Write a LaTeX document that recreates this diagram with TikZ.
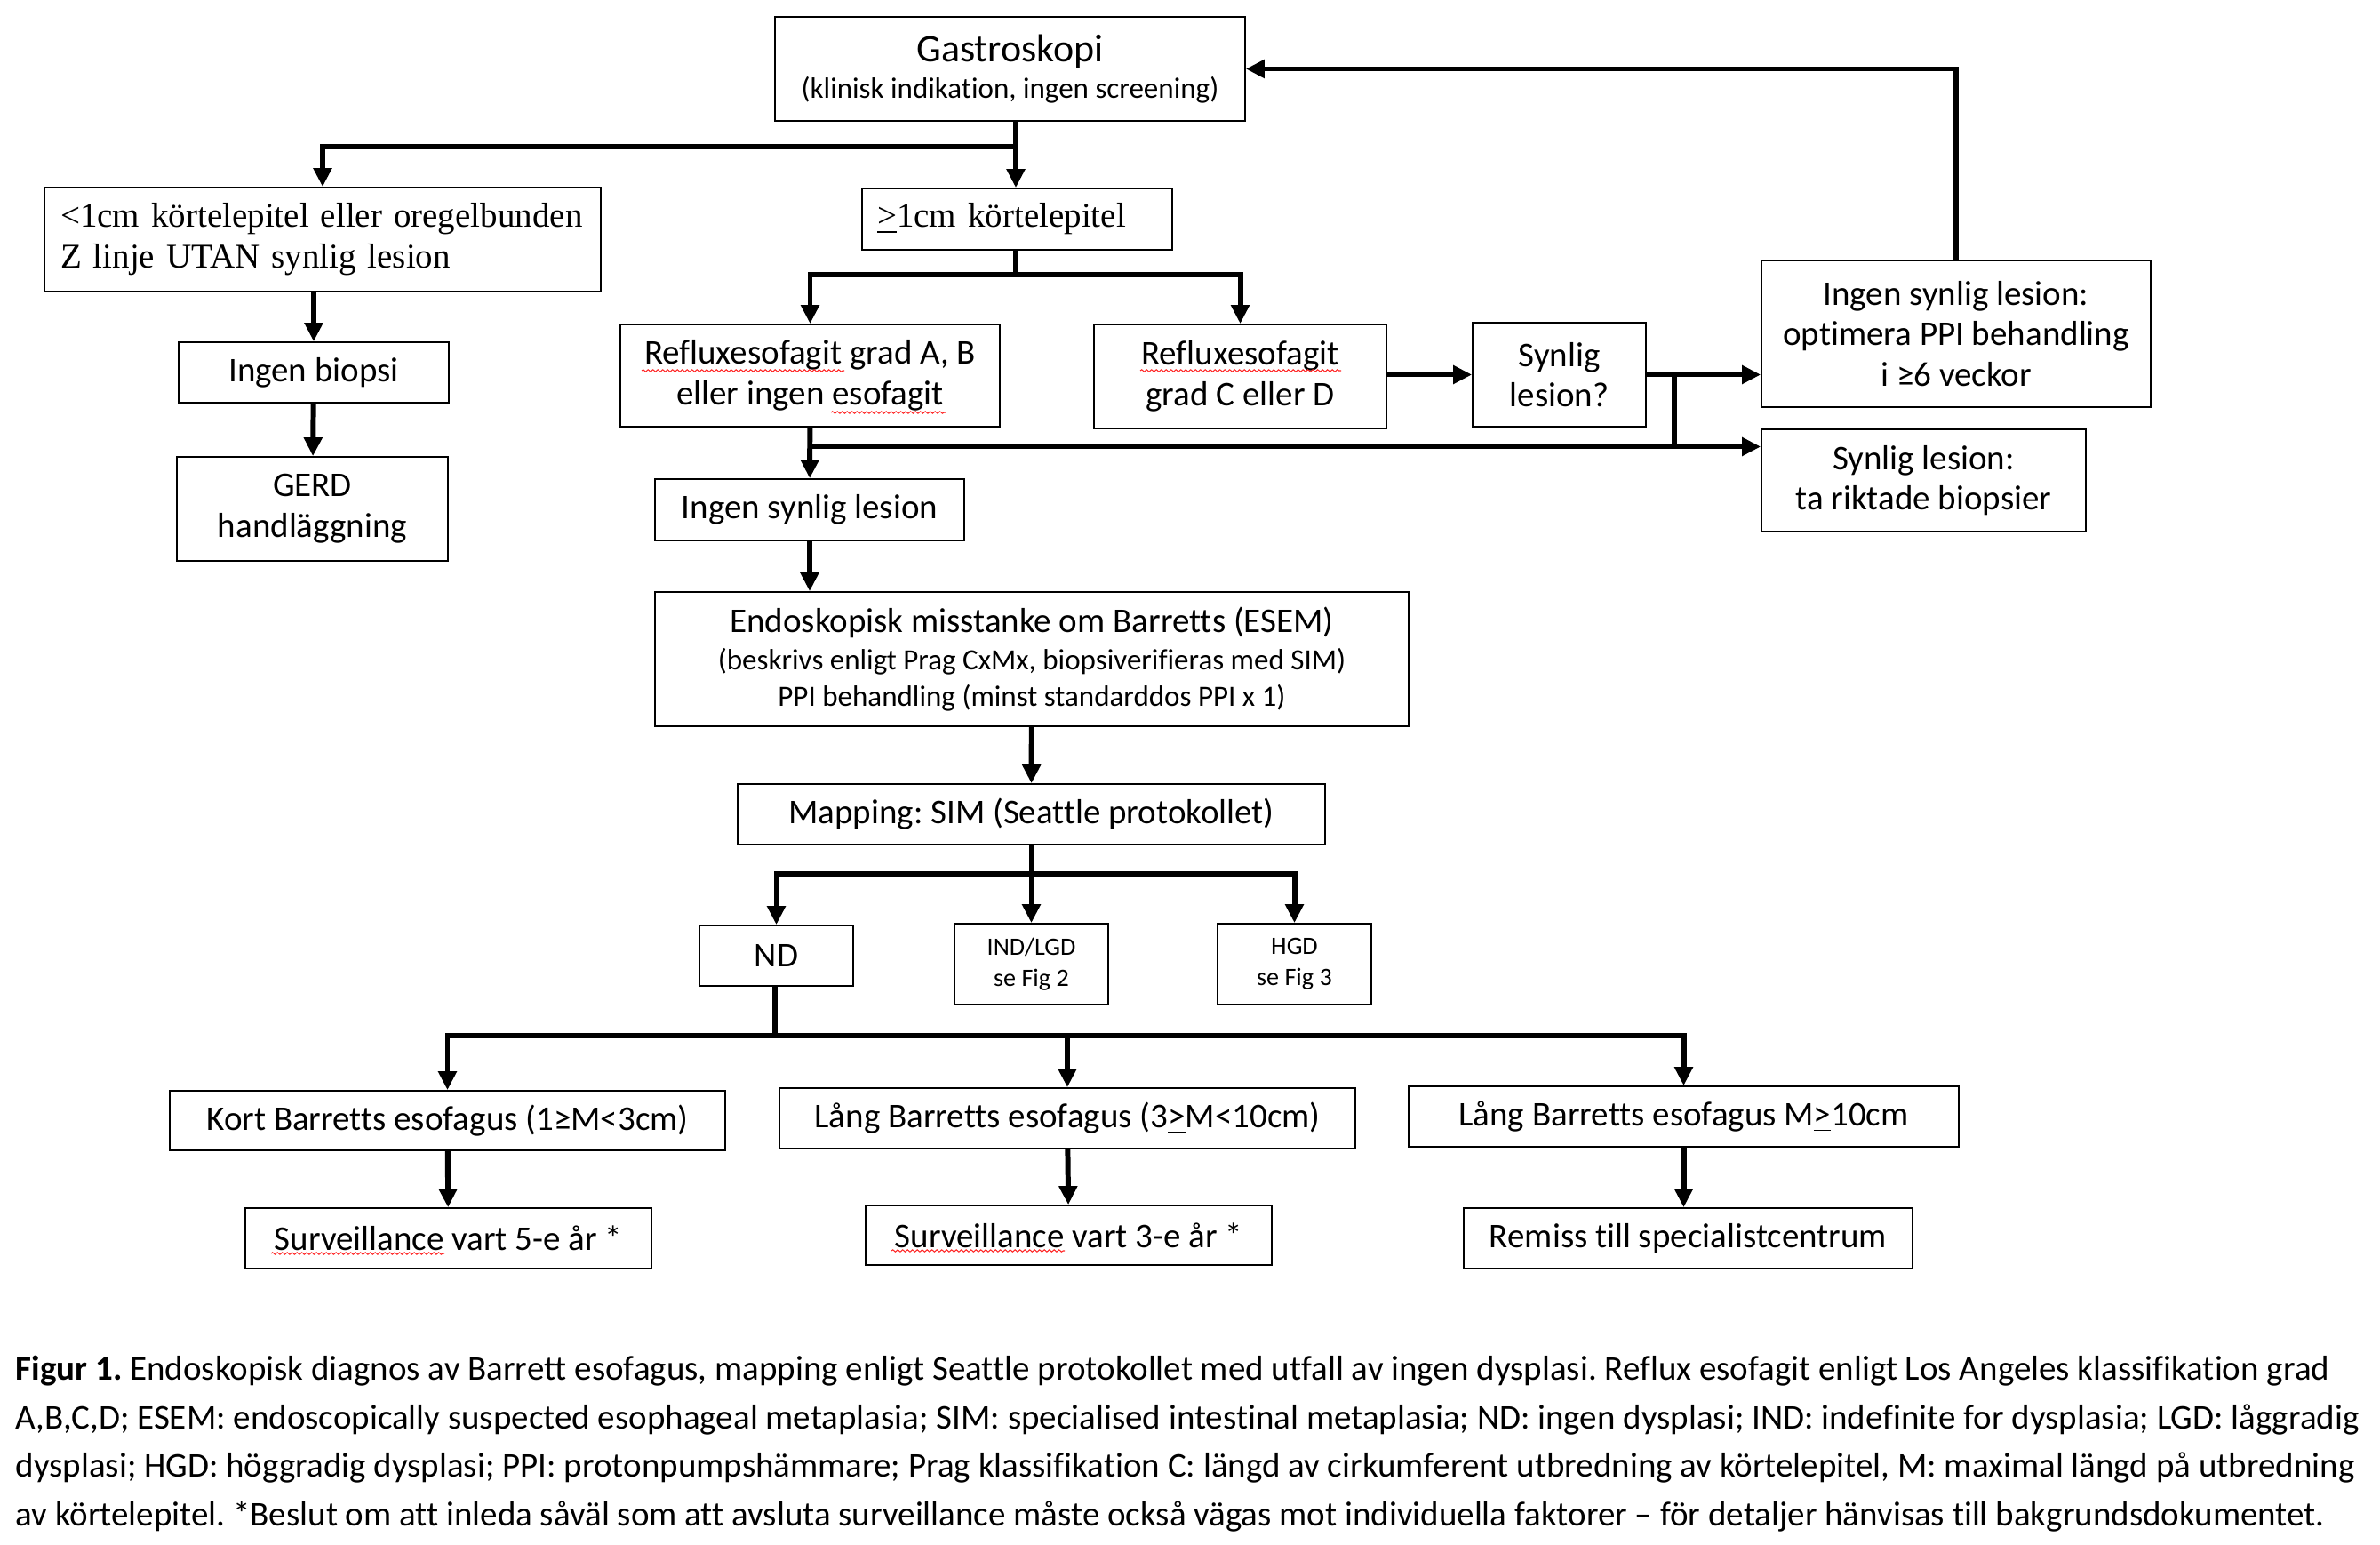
\documentclass[tikz,border=0pt]{standalone}
\usepackage{fontspec}
\setmainfont{Carlito}[Ligatures={TeX,NoCommon}]
\newfontfamily\timesfont{Liberation Serif}
\usepackage{tikz}
\usetikzlibrary{arrows.meta,decorations.pathmorphing}

\newcommand{\fbig}{\fontsize{12.5}{14}\selectfont}
\newcommand{\fmain}{\fontsize{11.1}{13}\selectfont}
\newcommand{\fsub}{\fontsize{9.4}{12}\selectfont}
\newcommand{\fsmall}{\fontsize{8}{10}\selectfont}
\newcommand{\fcap}{\fontsize{11.1}{13}\selectfont}

\tikzset{
  box/.style={draw, line width=0.5pt, inner sep=0pt, align=center, font=\fmain},
  sz/.style 2 args={minimum width=#1cm, minimum height=#2cm},
  arr/.style={line width=1.7pt, -{Triangle[length=0.21cm,width=0.2cm]}},
  link/.style={line width=1.7pt},
  squig/.style={red!85!white, line width=0.3pt, decorate, decoration={snake, amplitude=0.012cm, segment length=0.055cm}},
}

\begin{document}
\frenchspacing
\begin{tikzpicture}
\useasboundingbox (0,0) rectangle (26.78,-17.38);

 \draw (11.365,-0.775) node[box,sz={5.29}{1.17}] (gastro) {{\fbig Gastroskopi}\\[-1.5pt]{\fsub (klinisk indikation, ingen screening)}};
 \draw (3.63,-2.695) node[box,text width=5.9cm,inner xsep=0.18cm,minimum height=1.17cm,align=left,font=\timesfont\fmain] (small) {<1cm körtelepitel eller oregelbunden\\Z linje UTAN synlig lesion};
 \draw (11.445,-2.465) node[box,text width=3.15cm,inner xsep=0.17cm,minimum height=0.69cm,align=left,font=\timesfont\fmain] (large) {\underline{>}1cm körtelepitel};
 \draw (3.53,-4.19) node[box,sz={3.04}{0.68}] (nobiopsy) {Ingen biopsi};
 \draw (3.515,-5.725) node[box,sz={3.05}{1.17}] (gerd) {GERD\\handläggning};

 \draw (9.115,-4.225) node[box,sz={4.27}{1.15}] (refluxab) {Refluxesofagit grad A, B\\eller ingen esofagit};
 \draw (13.955,-4.235) node[box,sz={3.29}{1.17}] (refluxcd) {Refluxesofagit\\grad C eller D};
 \draw (17.545,-4.215) node[box,sz={1.95}{1.17}] (visible) {Synlig\\lesion?};
 \draw (22.01,-3.755) node[box,sz={4.38}{1.65}] (ppi) {Ingen synlig lesion:\\optimera PPI behandling\\i ≥6 veckor};
 \draw (21.645,-5.405) node[box,sz={3.65}{1.15}] (biopsy) {Synlig lesion:\\ta riktade biopsier};
 \draw (9.11,-5.735) node[box,sz={3.48}{0.69}] (nolesion) {Ingen synlig lesion};

 \draw (11.61,-7.415) node[box,sz={8.48}{1.51}] (esem) {Endoskopisk misstanke om Barretts (ESEM)\\[-1pt]{\fsub (beskrivs enligt Prag CxMx, biopsiverifieras med SIM)}\\[-1.4pt]{\fsub PPI behandling (minst standarddos PPI x 1)}};
 \draw (11.605,-9.16) node[box,sz={6.61}{0.68}] (mapping) {Mapping: SIM (Seattle protokollet)};
 \draw (8.735,-10.75) node[box,sz={1.73}{0.68}] (nd) {ND};
 \draw (11.605,-10.845) node[box,sz={1.73}{0.91},font=\fsmall] (indlgd) {IND/LGD\\se Fig 2};
 \draw (14.565,-10.845) node[box,sz={1.73}{0.91},font=\fsmall] (hgd) {HGD\\se Fig 3};

 \draw (5.035,-12.605) node[box,sz={6.25}{0.67}] (short) {Kort Barretts esofagus (1≥M<3cm)};
 \draw (12.01,-12.58) node[box,sz={6.48}{0.68}] (long) {Lång Barretts esofagus (3\underline{>}M<10cm)};
 \draw (18.945,-12.56) node[box,sz={6.19}{0.68}] (longplus) {Lång Barretts esofagus M\underline{>}10cm};
 \draw (5.045,-13.93) node[box,sz={4.57}{0.68}] (surv5) {Surveillance vart 5-e år *};
 \draw (12.025,-13.895) node[box,sz={4.57}{0.67}] (surv3) {Surveillance vart 3-e år *};
 \draw (18.995,-13.93) node[box,sz={5.05}{0.68}] (remiss) {Remiss till specialistcentrum};

 % spelling marks
 \draw[squig] (7.22,-4.17) -- (9.50,-4.17);
 \draw[squig] (9.35,-4.64) -- (10.64,-4.64);
 \draw[squig] (12.83,-4.17) -- (15.09,-4.17);
 \draw[squig] (3.05,-14.10) -- (5.00,-14.10);
 \draw[squig] (10.03,-14.07) -- (11.98,-14.07);

 % caption
 \draw (0.17,-15.42) node[anchor=west,inner sep=0pt,font=\fcap] (cap1) {\textbf{Figur 1.} Endoskopisk diagnos av Barrett esofagus, mapping enligt Seattle protokollet med utfall av ingen dysplasi. Reflux esofagit enligt Los Angeles klassifikation grad};
 \draw (0.17,-15.97) node[anchor=west,inner sep=0pt,font=\fcap] (cap2) {A,B,C,D; ESEM: endoscopically suspected esophageal metaplasia; SIM: specialised intestinal metaplasia; ND: ingen dysplasi; IND: indefinite for dysplasia; LGD: låggradig};
 \draw (0.17,-16.51) node[anchor=west,inner sep=0pt,font=\fcap] (cap3) {dysplasi; HGD: höggradig dysplasi; PPI: protonpumpshämmare; Prag klassifikation C: längd av cirkumferent utbredning av körtelepitel, M: maximal längd på utbredning};
 \draw (0.17,-17.06) node[anchor=west,inner sep=0pt,font=\fcap] (cap4) {av körtelepitel. *Beslut om att inleda såväl som att avsluta surveillance måste också vägas mot individuella faktorer – för detaljer hänvisas till bakgrundsdokumentet.};

 % branch points
 \coordinate (c1) at (11.43,-1.65);
 \coordinate (c2) at (11.43,-3.09);
 \coordinate (c3) at (9.115,-5.025);
 \coordinate (c4) at (18.84,-4.215);
 \coordinate (c5) at (11.605,-9.83);
 \coordinate (c6) at (8.72,-11.65);

 \draw[link] (gastro.south -| c1) -- (c1);
 \draw[arr] (c1) -| (small.north);
 \draw[arr] (c1) -- (large.north -| c1);
 \draw[arr] (small.south -| nobiopsy) -- (nobiopsy);
 \draw[arr] (nobiopsy) -- (gerd);

 \draw[link] (large.south -| c2) -- (c2);
 \draw[arr] (c2) -| (refluxab.north);
 \draw[arr] (c2) -| (refluxcd.north);
 \draw[arr] (refluxab) -- (nolesion);
 \draw[arr] (c3) -- (c3 -| biopsy.west);
 \draw[arr] (refluxcd.east |- visible) -- (visible.west);
 \draw[arr] (visible.east) -- (visible.east -| ppi.west);
 \draw[link] (c4) -- (c4 |- c3);
 \draw[arr] (ppi.north) |- (gastro.east);

 \draw[arr] (nolesion) -- (nolesion |- esem.north);
 \draw[arr] (esem) -- (mapping);
 \draw[link] (mapping.south) -- (c5);
 \draw[arr] (c5) -| (nd.north);
 \draw[arr] (c5) -- (indlgd.north);
 \draw[arr] (c5) -| (hgd.north);

 \draw[link] (nd.south -| c6) -- (c6);
 \draw[arr] (c6) -| (short.north);
 \draw[arr] (c6) -| (long.north);
 \draw[arr] (c6) -| (longplus.north);
 \draw[arr] (short) -- (surv5);
 \draw[arr] (long) -- (surv3);
 \draw[arr] (longplus) -- (longplus |- remiss.north);
\end{tikzpicture}
\end{document}
